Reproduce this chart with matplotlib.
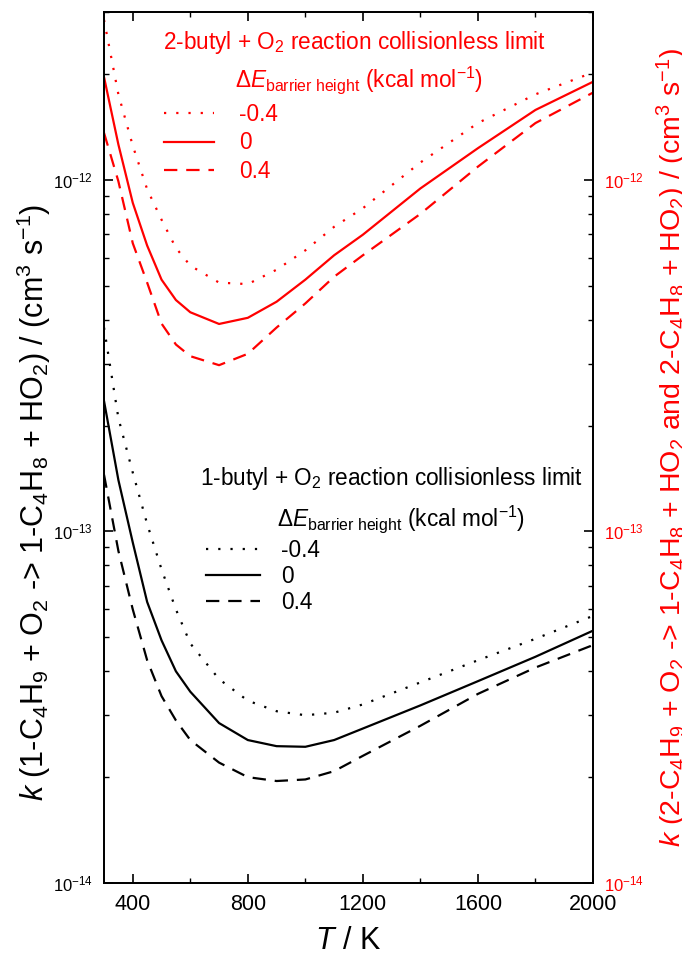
import numpy as np
import matplotlib
matplotlib.use("Agg")
import matplotlib.pyplot as plt
from matplotlib.ticker import MultipleLocator, LogLocator, NullFormatter

# Temperatury [K]
temperatures = [300, 350, 400, 450, 500, 550, 600, 700, 800, 900, 1000,
                1100, 1200, 1400, 1600, 1800, 2000]

# 2-butyl + O2, stała szybkości [cm3 s-1] dla trzech przesunięć bariery
k2_minus04 = [2.85e-12, 1.75e-12, 1.25e-12, 9.4e-13, 7.7e-13, 6.4e-13, 5.7e-13,
              5.1e-13, 5.05e-13, 5.55e-13, 6.3e-13, 7.35e-13, 8.3e-13,
              1.12e-12, 1.45e-12, 1.75e-12, 2.02e-12]
k2_zero = [1.96e-12, 1.26e-12, 8.6e-13, 6.5e-13, 5.2e-13, 4.55e-13, 4.2e-13,
           3.89e-13, 4.05e-13, 4.5e-13, 5.2e-13, 6.1e-13, 6.98e-13,
           9.45e-13, 1.23e-12, 1.58e-12, 1.9e-12]
k2_plus04 = [1.36e-12, 9.9e-13, 6.6e-13, 5.1e-13, 3.9e-13, 3.4e-13, 3.15e-13,
             2.97e-13, 3.2e-13, 3.8e-13, 4.45e-13, 5.3e-13, 6.1e-13,
             8.0e-13, 1.09e-12, 1.45e-12, 1.77e-12]

# 1-butyl + O2
k1_minus04 = [3.8e-13, 2.1e-13, 1.47e-13, 1.05e-13, 7.8e-14, 6.0e-14, 4.8e-14,
              3.8e-14, 3.3e-14, 3.08e-14, 3.0e-14, 3.05e-14, 3.22e-14,
              3.72e-14, 4.3e-14, 4.95e-14, 5.75e-14]
k1_zero = [2.35e-13, 1.4e-13, 9.3e-14, 6.3e-14, 4.9e-14, 4.0e-14, 3.5e-14,
           2.85e-14, 2.55e-14, 2.45e-14, 2.44e-14, 2.55e-14, 2.75e-14,
           3.2e-14, 3.75e-14, 4.4e-14, 5.22e-14]
k1_plus04 = [1.45e-13, 8.8e-14, 6.0e-14, 4.3e-14, 3.4e-14, 2.9e-14, 2.55e-14,
             2.2e-14, 2.0e-14, 1.95e-14, 1.97e-14, 2.08e-14, 2.3e-14,
             2.8e-14, 3.45e-14, 4.1e-14, 4.75e-14]

barrier_labels = ["-0.4", "0", "0.4"]

plt.rcParams['font.family'] = ['Liberation Sans', 'DejaVu Sans']
plt.rcParams['mathtext.fontset'] = 'custom'
plt.rcParams['mathtext.rm'] = 'Liberation Sans'
plt.rcParams['mathtext.it'] = 'Liberation Sans:italic'
plt.rcParams['mathtext.bf'] = 'Liberation Sans:bold'

DOT = (0, (1, 4.5))
DASH = (0, (6, 4))
LW = 1.6
FS_LEG = 16.3


def style_axis(ax):
    ax.set_yscale('log')
    ax.set_xlim(300, 2000)
    ax.set_ylim(1e-14, 3e-12)
    ax.xaxis.set_major_locator(MultipleLocator(400))
    ax.xaxis.set_minor_locator(MultipleLocator(200))
    ax.yaxis.set_major_locator(LogLocator(base=10, numticks=10))
    ax.yaxis.set_minor_locator(LogLocator(base=10, subs=np.arange(2, 10), numticks=20))
    ax.yaxis.set_minor_formatter(NullFormatter())
    for s in ax.spines.values():
        s.set_linewidth(1.3)


def plot_data():
    fig = plt.figure(figsize=(6.82, 9.55), dpi=100)
    ax = fig.add_axes([0.1525, 0.0754, 0.717, 0.912])
    style_axis(ax)

    red = []
    red.append(ax.plot(temperatures, k2_minus04, color='red', lw=LW, linestyle=DOT)[0])
    red.append(ax.plot(temperatures, k2_zero, color='red', lw=LW, linestyle='-')[0])
    red.append(ax.plot(temperatures, k2_plus04, color='red', lw=LW, linestyle=DASH)[0])
    black = []
    black.append(ax.plot(temperatures, k1_minus04, color='black', lw=LW, linestyle=DOT)[0])
    black.append(ax.plot(temperatures, k1_zero, color='black', lw=LW, linestyle='-')[0])
    black.append(ax.plot(temperatures, k1_plus04, color='black', lw=LW, linestyle=DASH)[0])

    ax.tick_params(axis='both', which='both', direction='in', top=True, right=False)
    ax.tick_params(axis='both', which='major', length=6.5, width=1.2)
    ax.tick_params(axis='both', which='minor', length=3.5, width=1.0)
    ax.tick_params(axis='x', labelsize=15.5, pad=8)
    ax.tick_params(axis='y', labelsize=12, pad=8)

    # prawa oś - ta sama skala, czerwone etykiety
    ax2 = ax.twinx()
    style_axis(ax2)
    ax2.tick_params(axis='y', which='both', direction='in', labelcolor='red', labelsize=12, pad=8)
    ax2.tick_params(axis='y', which='major', length=6.5, width=1.2)
    ax2.tick_params(axis='y', which='minor', length=3.5, width=1.0)

    ax.set_xlabel("$T$ / K", fontsize=22, labelpad=8)
    ax.set_ylabel("$k$ (1-C$_4$H$_9$ + O$_2$ -> 1-C$_4$H$_8$ + HO$_2$) / (cm$^3$ s$^{-1}$)",
                  fontsize=22, labelpad=2)
    ax.yaxis.set_label_coords(-0.105, 0.437)
    ax2.set_ylabel("$k$ (2-C$_4$H$_9$ + O$_2$ -> 1-C$_4$H$_8$ + HO$_2$ and 2-C$_4$H$_8$ + HO$_2$)"
                   " / (cm$^3$ s$^{-1}$)", fontsize=20.5, color='red', labelpad=8)

    # legenda 2-butyl
    fig.text(355 / 682, 1 - 42 / 955, "2-butyl + O$_2$ reaction collisionless limit",
             color='red', fontsize=FS_LEG, ha='center', va='center')
    fig.text(359 / 682, 1 - 80 / 955, r"$\Delta E_\mathrm{barrier\ height}$ (kcal mol$^{-1}$)",
             color='red', fontsize=FS_LEG, ha='center', va='center')
    leg1 = ax.legend(red, barrier_labels, loc='upper left',
                     bbox_to_anchor=(164 / 682, 1 - 103 / 955), bbox_transform=fig.transFigure,
                     frameon=False, fontsize=FS_LEG, handlelength=2.2, handletextpad=1.1,
                     labelspacing=0.24, borderpad=0, borderaxespad=0, labelcolor='red')
    ax.add_artist(leg1)

    # legenda 1-butyl
    fig.text(392 / 682, 1 - 478 / 955, "1-butyl + O$_2$ reaction collisionless limit",
             color='black', fontsize=FS_LEG, ha='center', va='center')
    fig.text(401 / 682, 1 - 519 / 955, r"$\Delta E_\mathrm{barrier\ height}$ (kcal mol$^{-1}$)",
             color='black', fontsize=FS_LEG, ha='center', va='center')
    ax.legend(black, barrier_labels, loc='upper left',
              bbox_to_anchor=(206 / 682, 1 - 539 / 955), bbox_transform=fig.transFigure,
              frameon=False, fontsize=FS_LEG, handlelength=2.4, handletextpad=0.9,
              labelspacing=0.14, borderpad=0, borderaxespad=0)

    fig.savefig("out.png", dpi=100)


if __name__ == "__main__":
    plot_data()
